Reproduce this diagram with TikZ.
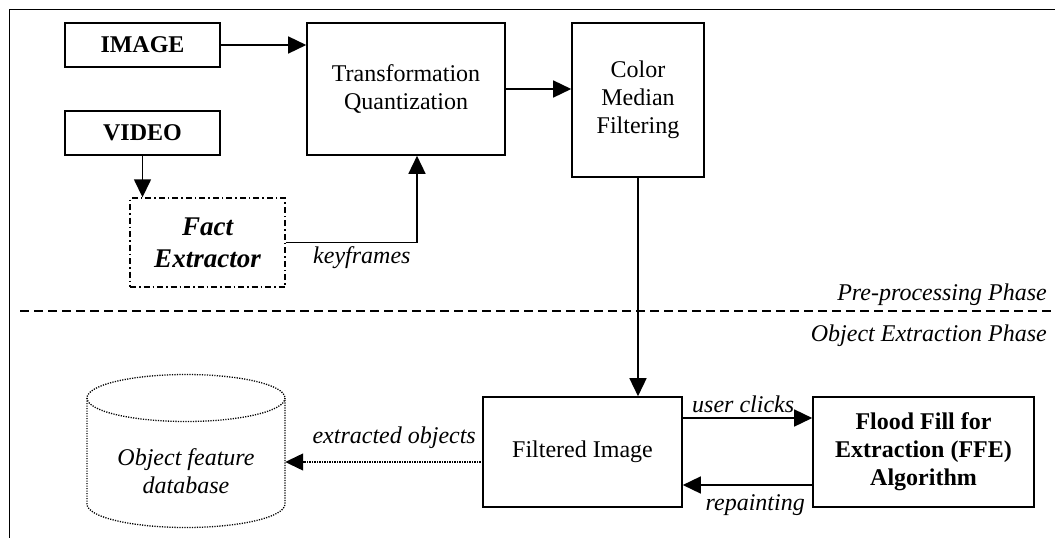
\documentclass[tikz,border=0pt]{standalone}
\usepackage{fontspec}
\setmainfont{Liberation Serif}
\usetikzlibrary{arrows.meta}

\begin{document}
\begin{tikzpicture}[x=1pt,y=-1pt,
  every node/.style={font=\fontsize{24}{28}\selectfont, inner sep=0pt, align=center},
  box/.style={draw, line width=1.6pt, minimum width=#1},
  flow/.style={line width=1.5pt, -{Triangle[length=18pt,width=17pt]}},
  lbl/.style={font=\fontsize{24}{28}\selectfont\itshape},
  dotline/.style={line width=1.3pt, dash pattern=on 1.2pt off 1.3pt},
]
\useasboundingbox (0,0) rectangle (1055,538);

% outer frame (top and left edges only)
\draw[line width=1.5pt] (1055,9.5) -- (9.5,9.5) -- (9.5,538);

% phase separator
\draw[line width=1.5pt, dash pattern=on 9pt off 5pt] (20,311) -- (1055,311);
\node[lbl, anchor=base east] (pp) at (1047,300) {Pre-processing Phase};
\node[lbl, anchor=base east] (oe) at (1047,341) {Object Extraction Phase};

% pre-processing blocks
\node[box=155pt, minimum height=44pt] (img) at (142.5,45) {\textbf{IMAGE}};
\node[box=155pt, minimum height=44pt] (vid) at (142.5,133) {\textbf{VIDEO}};
\node[draw, line width=1.4pt, dash pattern=on 6pt off 3pt on 1.5pt off 3pt,
      minimum width=155pt, minimum height=89pt,
      font=\fontsize{27}{32}\selectfont\bfseries\itshape] (fe) at (207.5,242.5) {Fact\\Extractor};
\node[box=198pt, minimum height=132pt] (tq) at (406,89) {Transformation\\Quantization};
\node[box=132pt, minimum height=154pt] (cm) at (638,100) {Color\\Median\\Filtering};

% object extraction blocks
\node[box=199pt, minimum height=110pt] (fi) at (582.5,452) {Filtered Image};
\node[box=221pt, minimum height=110pt, font=\fontsize{24}{28}\selectfont\bfseries] (ffe) at (923.5,452)
  {Flood Fill for\\Extraction (FFE)\\Algorithm};

% object feature database (cylinder)
\node[minimum width=198pt, minimum height=152pt] (db) at (186,451) {};
\draw[dotline] (186,398) ellipse [x radius=99, y radius=23.5];
\draw[dotline] (87,398) -- (87,504) arc[start angle=180, end angle=0, x radius=99, y radius=23.5]
  -- (285,398);
\node[lbl] (dbt) at (186,471) {Object feature\\database};

% connectors
\draw[flow] (img.east) -- (tq.west |- img.east);
\draw[flow] (tq.east) -- (cm.west |- tq.east);
\draw[flow] (vid.south) -- (vid.south |- fe.north);
\coordinate (kf) at (417,242.5);
\draw[flow] (fe.east) -- (kf) -- (kf |- tq.south);
\node[lbl, anchor=base west] (kfl) at (313,263) {keyframes};
\draw[flow] (cm.south) -- (cm.south |- fi.north);

\coordinate (uc) at (682,418);
\draw[flow] (uc) -- (ffe.west |- uc);
\node[lbl, anchor=base west] (ucl) at (692,412) {user clicks};
\coordinate (rp) at (813,485);
\draw[flow] (rp) -- (fi.east |- rp);
\node[lbl, anchor=base east] (rpl) at (805,510) {repainting};

\coordinate (eo) at (483,462);
\draw[dotline, -{Triangle[length=18pt,width=17pt]}] (eo) -- (db.east |- eo);
\node[lbl, anchor=base east] (eol) at (476,443) {extracted objects};
\end{tikzpicture}
\end{document}
